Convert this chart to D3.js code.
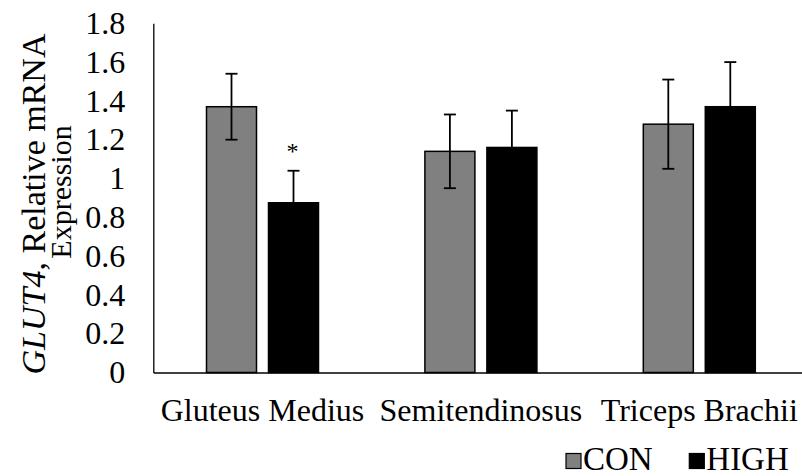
<!DOCTYPE html>
<html>
<head>
<meta charset="utf-8">
<script src="https://cdn.jsdelivr.net/npm/d3@7"></script>
<style>
  html, body { margin: 0; padding: 0; background: #fff; }
  svg { display: block; }
</style>
</head>
<body>
<svg id="chart" width="802" height="476"></svg>
<script>
// Muscle groups on the x axis
const categories = ["Gluteus Medius", "Semitendinosus", "Triceps Brachii"];
// Series names and fills
const seriesNames = ["CON", "HIGH"];
const seriesColors = ["#808080", "#000000"];
// Mean relative expression per muscle
const conValues = [1.37, 1.14, 1.28];
const highValues = [0.875, 1.16, 1.37];
// Error (SE) per muscle
const conErrors = [0.17, 0.19, 0.23];
const highErrors = [0.165, 0.19, 0.23];
// Significance markers for HIGH vs CON
const highMarks = ["*", "", ""];
// Y axis ticks
const yTicks = [0, 0.2, 0.4, 0.6, 0.8, 1, 1.2, 1.4, 1.6, 1.8];

const FONT = '"Liberation Serif", "Times New Roman", Times, serif';
const fontSize = 32;

const svg = d3.select("#chart")
  .attr("font-family", FONT);

const x0 = d3.scaleBand().domain(categories).range([153.3, 808.5]).padding(0);
const y = d3.scaleLinear().domain([0, 1.8]).range([372.5, 23.3]);

const barWidth = 50;
const barOffset = d3.scaleOrdinal().domain(seriesNames).range([-31, 31]);

// Y axis line with tick labels only
const yAxis = d3.axisLeft(y).tickValues(yTicks).tickSize(0).tickPadding(28)
  .tickFormat(d => d3.format("")(+d.toFixed(1)));
const gy = svg.append("g").attr("transform", `translate(${x0.range()[0]},0)`).call(yAxis);
gy.attr("font-family", FONT).attr("font-size", fontSize);
gy.select(".domain").attr("stroke", "#000").attr("stroke-width", 1.3);
gy.selectAll("text").attr("fill", "#000");

// Data rows
const rows = categories.map((c, i) => ({
  category: c,
  bars: [
    { series: "CON", value: conValues[i], err: conErrors[i], mark: "", color: seriesColors[0] },
    { series: "HIGH", value: highValues[i], err: highErrors[i], mark: highMarks[i], color: seriesColors[1] }
  ]
}));

const groups = svg.append("g").selectAll("g").data(rows).join("g")
  .attr("transform", d => `translate(${x0(d.category) + x0.bandwidth() / 2},0)`);

groups.selectAll("rect").data(d => d.bars).join("rect")
  .attr("x", d => barOffset(d.series) - barWidth / 2)
  .attr("y", d => y(d.value))
  .attr("width", barWidth)
  .attr("height", d => y(0) - y(d.value))
  .attr("fill", d => d.color)
  .attr("stroke", "#000")
  .attr("stroke-width", 1.5);

// Error bars
const eb = groups.selectAll("g.err").data(d => d.bars).join("g").attr("class", "err")
  .attr("stroke", "#000").attr("stroke-width", 1.8);
eb.append("line")
  .attr("x1", d => barOffset(d.series)).attr("x2", d => barOffset(d.series))
  .attr("y1", d => y(d.value + d.err)).attr("y2", d => y(d.value - d.err));
eb.append("line")
  .attr("x1", d => barOffset(d.series) - 6).attr("x2", d => barOffset(d.series) + 6)
  .attr("y1", d => y(d.value + d.err)).attr("y2", d => y(d.value + d.err));
eb.append("line")
  .attr("x1", d => barOffset(d.series) - 6).attr("x2", d => barOffset(d.series) + 6)
  .attr("y1", d => y(d.value - d.err)).attr("y2", d => y(d.value - d.err));

// Significance asterisks
groups.selectAll("text.mark").data(d => d.bars.filter(b => b.mark)).join("text")
  .attr("class", "mark")
  .attr("x", d => barOffset(d.series) - 1)
  .attr("y", d => y(d.value + d.err) - 11.5)
  .attr("text-anchor", "middle")
  .attr("font-size", 24)
  .text(d => d.mark);

// X baseline
const xAxis = d3.axisBottom(x0).tickSize(0).tickPadding(0).tickFormat("");
const gx = svg.append("g").attr("transform", `translate(0,${y(0)})`).call(xAxis);
gx.select(".domain").attr("stroke", "#000").attr("stroke-width", 1.5);

// Category labels
svg.append("g").selectAll("text").data(categories).join("text")
  .attr("x", d => x0(d) + x0.bandwidth() / 2)
  .attr("y", 421)
  .attr("text-anchor", "middle")
  .attr("font-size", fontSize)
  .text(d => d);

// Y axis title (two lines, rotated)
const title = svg.append("text")
  .attr("transform", "translate(44.5,204) rotate(-90)")
  .attr("text-anchor", "middle")
  .attr("font-size", 34);
title.append("tspan").attr("font-style", "italic").text("GLUT4");
title.append("tspan").text(", Relative mRNA");
svg.append("text")
  .attr("transform", "translate(71,192) rotate(-90)")
  .attr("text-anchor", "middle")
  .attr("font-size", 30)
  .text("Expression");

// Legend
const legendX = [566, 689.3];
const legend = svg.append("g").selectAll("g").data(seriesNames).join("g")
  .attr("transform", (d, i) => `translate(${legendX[i]},453.5)`);
legend.append("rect")
  .attr("width", 15).attr("height", 15)
  .attr("fill", (d, i) => seriesColors[i])
  .attr("stroke", "#000").attr("stroke-width", 1.2);
legend.append("text")
  .attr("x", 17).attr("y", 16.5)
  .attr("font-size", 33)
  .text(d => d);
</script>
</body>
</html>
